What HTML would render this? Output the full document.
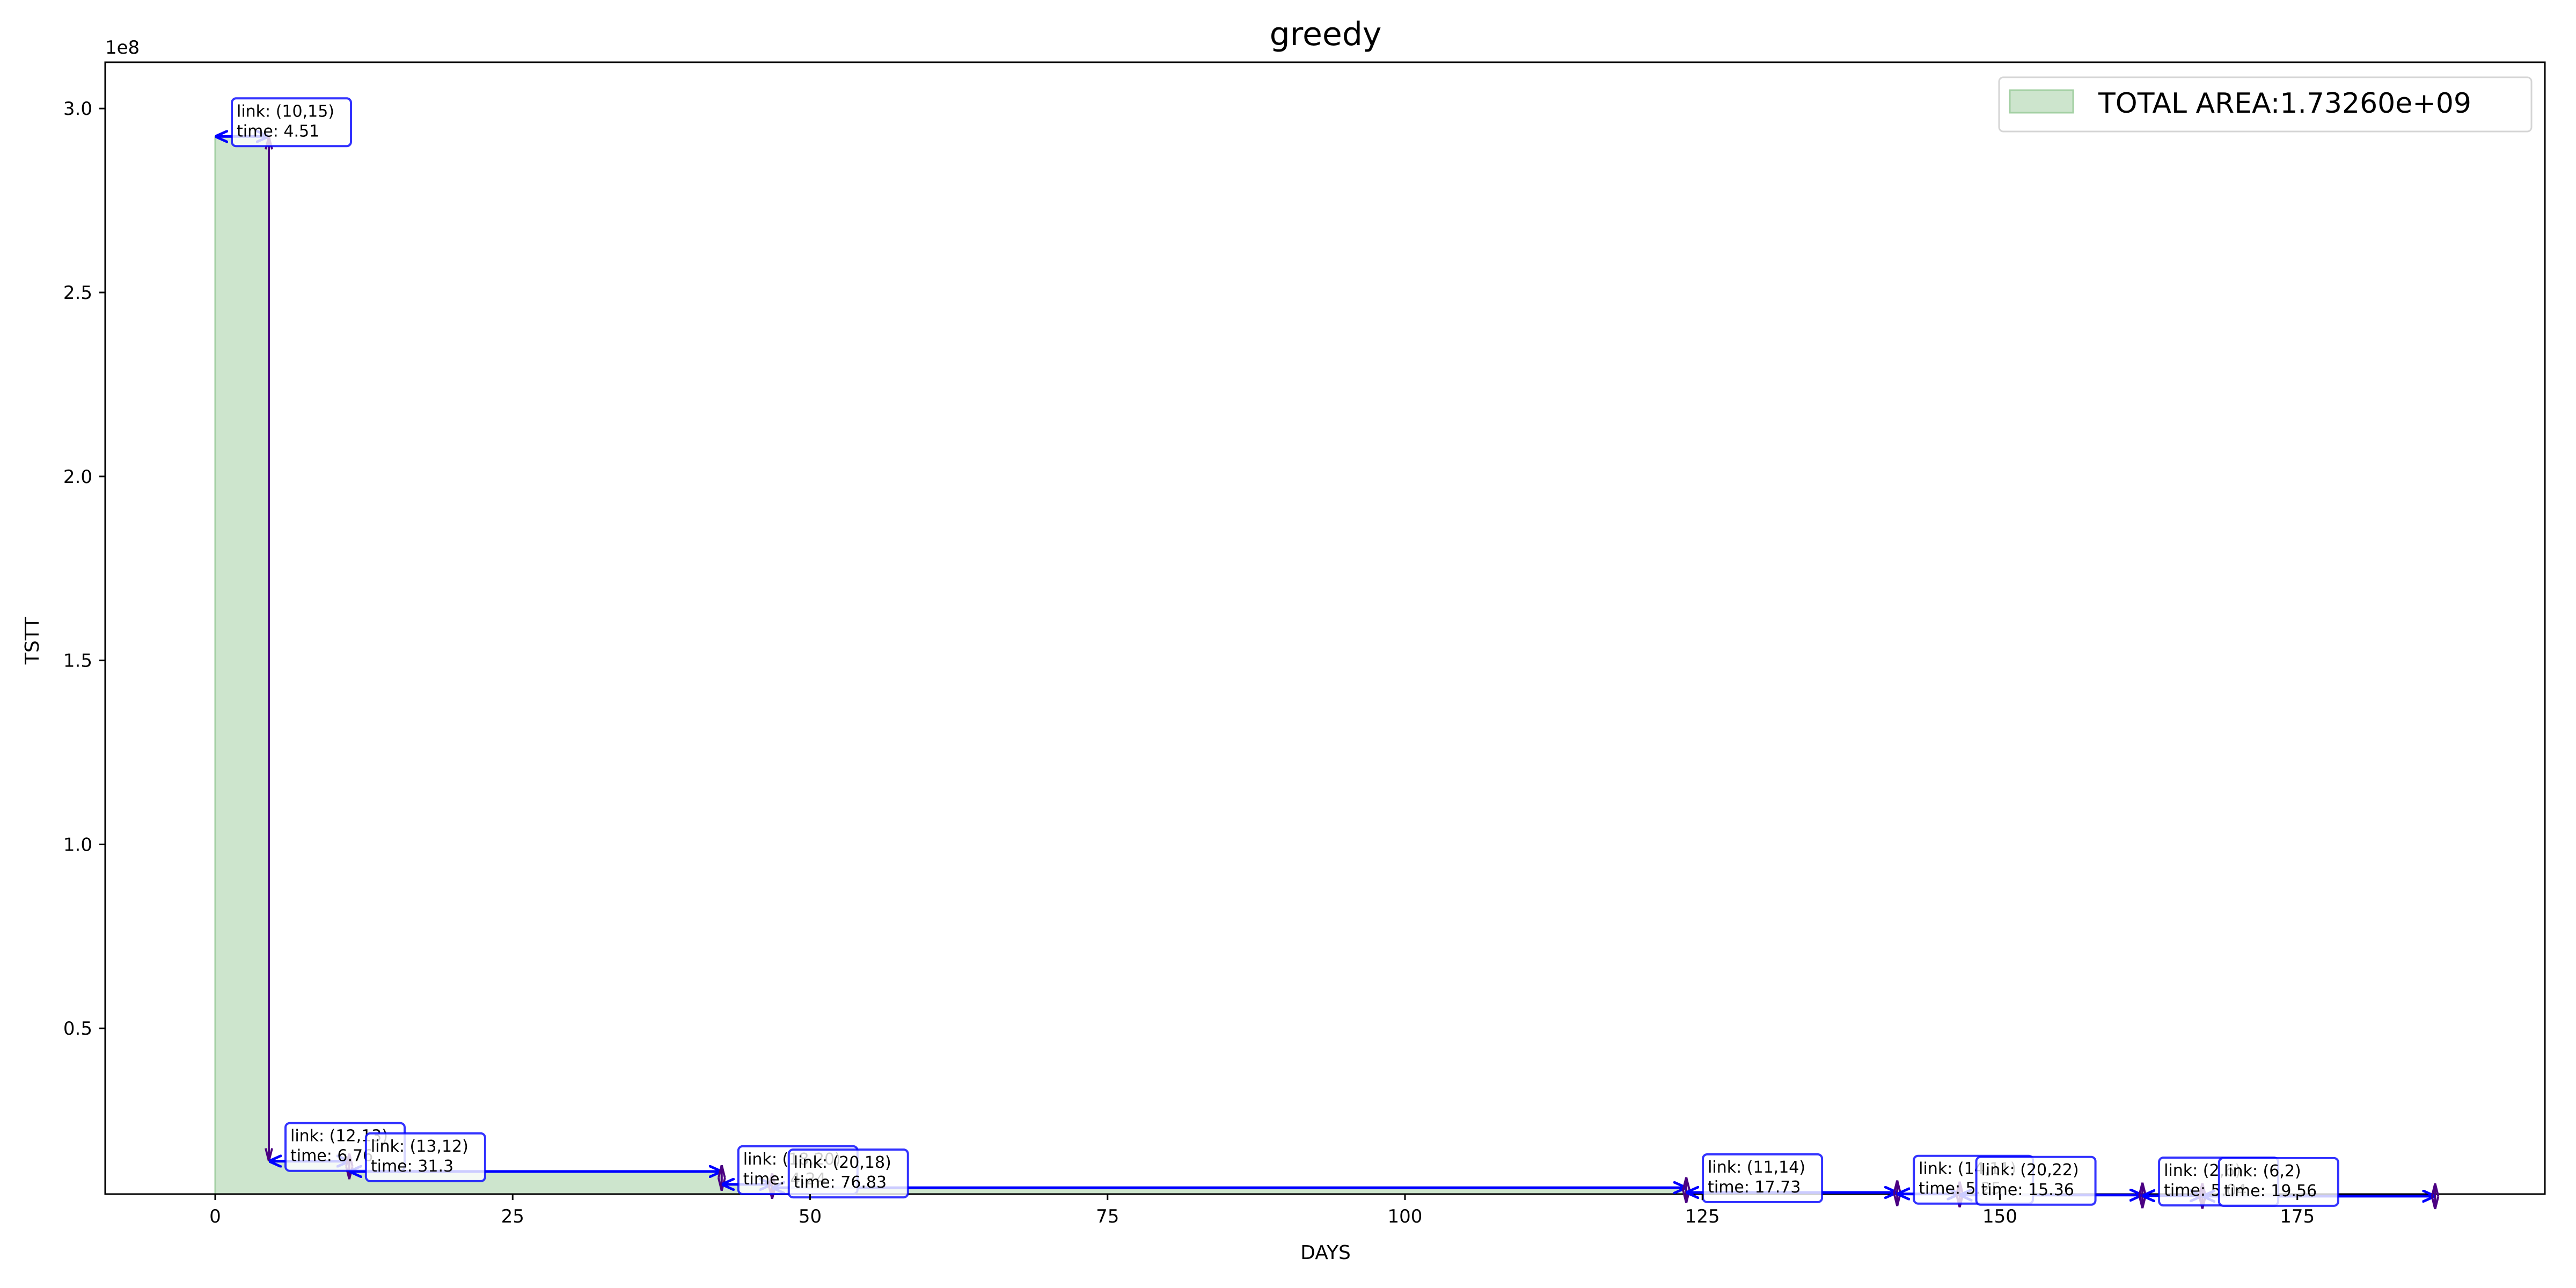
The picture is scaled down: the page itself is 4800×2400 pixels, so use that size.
<!DOCTYPE html>
<html><head><meta charset="utf-8"><style>
html,body{margin:0;padding:0;background:#fff;}
svg{display:block;font-family:"DejaVu Sans","Liberation Sans",sans-serif;}
</style></head><body>
<svg id="chart" width="4800" height="2400" viewBox="0 0 4800 2400" xmlns="http://www.w3.org/2000/svg">
<defs>
<clipPath id="plotclip"><rect x="196" y="116" width="4546" height="2109"/></clipPath>
<marker id="hb" viewBox="0 0 10 10" refX="10" refY="5" markerWidth="24" markerHeight="24" markerUnits="userSpaceOnUse" orient="auto-start-reverse"><path d="M0,0.5 L10,5 L0,9.5" fill="none" stroke="#0000ff" stroke-width="2"/></marker>
<marker id="hp" viewBox="0 0 10 10" refX="10" refY="5" markerWidth="24" markerHeight="24" markerUnits="userSpaceOnUse" orient="auto-start-reverse"><path d="M0,2.5 L10,5 L0,7.5" fill="none" stroke="#4b0082" stroke-width="1.6"/></marker>
</defs>
<rect x="0" y="0" width="4800" height="2400" fill="#fff"/>
<g id="fillg" clip-path="url(#plotclip)"></g>
<rect x="196" y="116" width="4546" height="2109" fill="none" stroke="#000" stroke-width="3"/>
<g id="arrows"></g>
<g id="boxes"></g>
<g id="xticks"></g>
<g id="yticks"></g>
<text x="196" y="100" font-size="34">1e8</text>
<text x="2470" y="84" font-size="60" text-anchor="middle">greedy</text>
<text x="2470" y="2346" font-size="36" text-anchor="middle">DAYS</text>
<text x="72" y="1194" font-size="36" text-anchor="middle" transform="rotate(-90 72 1194)">TSTT</text>
<g>
<rect x="3725" y="144" width="992" height="101" rx="8" fill="#fff" stroke="#d5d5d5" stroke-width="3"/>
<rect x="3745" y="168" width="118" height="42" fill="#cde5cd" stroke="#a3d0a3" stroke-width="3"/>
<text x="3910" y="210" font-size="52">TOTAL AREA:1.73260e+09</text>
</g>
</svg>
<script>
const links = ["(10,15)","(12,13)","(13,12)","(18,20)","(20,18)","(11,14)","(14,11)","(20,22)","(2,6)","(6,2)"];
const durations = [4.51,6.76,31.3,4.24,76.83,17.73,5.25,15.36,5.04,19.56];
const durationLabels = ["4.51","6.76","31.3","4.24","76.83","17.73","5.25","15.36","5.04","19.56"];
const levels = [2.924,0.139,0.111,0.076,0.067,0.054,0.050,0.047,0.045,0.044,0.043];
const xTickValues = [0,25,50,75,100,125,150,175];
const yTickValues = [0.5,1.0,1.5,2.0,2.5,3.0];
const yTickLabels = ["0.5","1.0","1.5","2.0","2.5","3.0"];

const NS = "http://www.w3.org/2000/svg";
function xS(d){ return 401 + d*22.17; }
function yS(v){ return 2259 - v*685.6; }
function mk(tag, attrs, parent){
  const e = document.createElementNS(NS, tag);
  for (const k in attrs) e.setAttribute(k, attrs[k]);
  parent.appendChild(e); return e;
}
const starts=[0]; for(let i=0;i<durations.length;i++) starts.push(starts[i]+durations[i]);

const fg=document.getElementById('fillg');
let d="M"+xS(0)+","+yS(0);
for(let i=0;i<durations.length;i++){ d+=" L"+xS(starts[i])+","+yS(levels[i])+" L"+xS(starts[i+1])+","+yS(levels[i]); }
d+=" L"+xS(starts[durations.length])+","+yS(0)+" Z";
const area=mk('path',{d:d,fill:'#cde5cd',stroke:'#a3d0a3','stroke-width':3},fg);



const ag=document.getElementById('arrows');
for(let i=0;i<durations.length;i++){
  const h=mk('line',{x1:xS(starts[i]),y1:yS(levels[i]),x2:xS(starts[i+1]),y2:yS(levels[i]),stroke:'#0000ff','stroke-width':5,'marker-start':'url(#hb)','marker-end':'url(#hb)'},ag);
  
  
  let y1=yS(levels[i]), y2=yS(levels[i+1]);
  if (Math.abs(y2-y1)<40){ const c=(y1+y2)/2; y1=c-24; y2=c+24; }
  const v=mk('line',{x1:xS(starts[i+1]),y1:y1,x2:xS(starts[i+1]),y2:y2,stroke:'#4b0082','stroke-width':4,'marker-start':'url(#hp)','marker-end':'url(#hp)'},ag);
  
  
}
const bg=document.getElementById('boxes');
for(let i=0;i<durations.length;i++){
  const bx=xS(starts[i])+31, bb=yS(levels[i])+18;
  const g=mk('g',{},bg);
  
  
  mk('rect',{x:bx,y:bb-89,width:222,height:89,rx:8,fill:'rgba(255,255,255,0.8)',stroke:'rgba(0,0,255,0.8)','stroke-width':4},g);
  const t1=mk('text',{x:bx+9,y:bb-55,'font-size':30},g); t1.textContent="link: "+links[i];
  const t2=mk('text',{x:bx+9,y:bb-18,'font-size':30},g); t2.textContent="time: "+durationLabels[i];
}
const xt=document.getElementById('xticks');
xTickValues.forEach(v=>{
  const x=xS(v);
  mk('line',{x1:x,y1:2225,x2:x,y2:2236,stroke:'#000','stroke-width':3},xt);
  const t=mk('text',{x:x,y:2278,'font-size':34,'text-anchor':'middle'},xt);
  
  
  t.textContent=String(v);
});
const yt=document.getElementById('yticks');
yTickValues.forEach((v,i)=>{
  const y=yS(v);
  mk('line',{x1:185,y1:y,x2:196,y2:y,stroke:'#000','stroke-width':3},yt);
  const t=mk('text',{x:172,y:y+12,'font-size':34,'text-anchor':'end'},yt);
  
  
  t.textContent=yTickLabels[i];
});
</script>
</body></html>
